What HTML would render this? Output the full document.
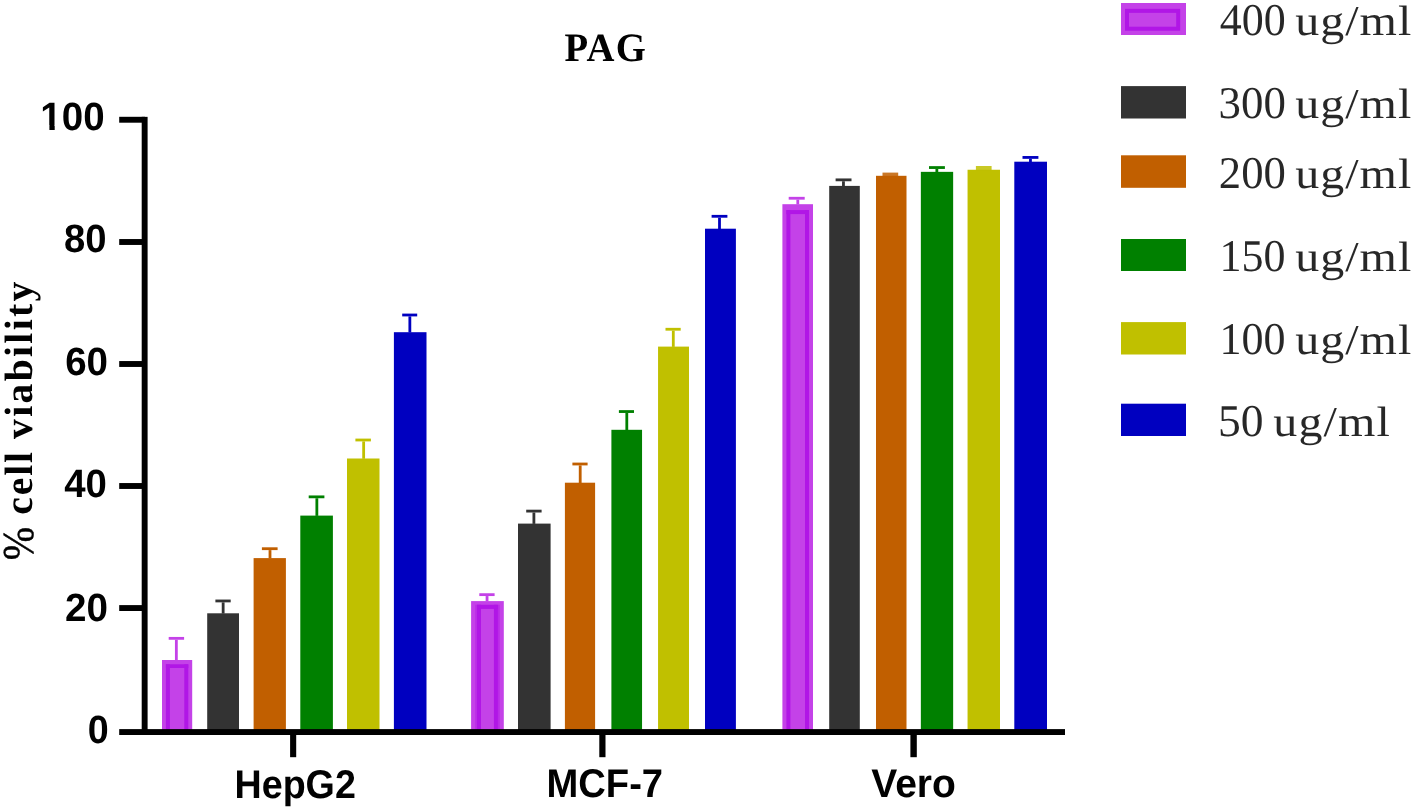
<!DOCTYPE html>
<html><head><meta charset="utf-8"><title>PAG</title>
<style>html,body{margin:0;padding:0;background:#fff;}body{width:1416px;height:810px;overflow:hidden;}svg{display:block;}text{font-family:"Liberation Sans",sans-serif;text-rendering:geometricPrecision;}.ser{font-family:"Liberation Serif",serif;}</style></head><body>
<svg width="1416" height="810" viewBox="0 0 1416 810">
<rect x="0.00" y="0.00" width="1416.00" height="810.00" fill="#fff"/>
<rect x="162.00" y="660.00" width="30.20" height="70.50" fill="#C442E8"/>
<rect x="165.90" y="664.30" width="4.00" height="66.20" fill="#B116E6"/>
<rect x="184.30" y="664.30" width="4.00" height="66.20" fill="#B116E6"/>
<rect x="165.90" y="664.30" width="22.40" height="3.70" fill="#B116E6"/>
<rect x="168.70" y="636.95" width="15.40" height="2.80" fill="#C442E8"/>
<rect x="174.95" y="639.75" width="2.80" height="20.55" fill="#C442E8"/>
<rect x="207.20" y="613.30" width="31.80" height="117.20" fill="#333333"/>
<rect x="215.40" y="599.55" width="15.30" height="2.80" fill="#333333"/>
<rect x="221.75" y="602.35" width="2.80" height="11.25" fill="#333333"/>
<rect x="253.60" y="558.10" width="32.30" height="172.40" fill="#C15F00"/>
<rect x="261.90" y="547.30" width="15.70" height="2.80" fill="#C15F00"/>
<rect x="268.60" y="550.10" width="2.80" height="8.30" fill="#C15F00"/>
<rect x="300.30" y="515.60" width="32.60" height="214.90" fill="#008000"/>
<rect x="308.70" y="495.45" width="15.70" height="2.80" fill="#008000"/>
<rect x="315.45" y="498.25" width="2.80" height="17.65" fill="#008000"/>
<rect x="347.00" y="458.50" width="32.50" height="272.00" fill="#C0C000"/>
<rect x="355.40" y="438.60" width="15.50" height="2.80" fill="#C0C000"/>
<rect x="362.25" y="441.40" width="2.80" height="17.40" fill="#C0C000"/>
<rect x="393.90" y="332.20" width="32.60" height="398.30" fill="#0000C0"/>
<rect x="402.20" y="313.60" width="15.00" height="2.80" fill="#0000C0"/>
<rect x="408.45" y="316.40" width="2.80" height="16.10" fill="#0000C0"/>
<rect x="471.10" y="601.10" width="32.70" height="129.40" fill="#C442E8"/>
<rect x="475.20" y="604.80" width="1.80" height="125.70" fill="#BB2CE7"/>
<rect x="497.90" y="604.80" width="1.80" height="125.70" fill="#BB2CE7"/>
<rect x="477.00" y="604.80" width="4.00" height="125.70" fill="#B116E6"/>
<rect x="493.90" y="604.80" width="4.00" height="125.70" fill="#B116E6"/>
<rect x="477.00" y="604.80" width="20.90" height="4.10" fill="#B116E6"/>
<rect x="479.30" y="593.25" width="15.30" height="2.80" fill="#C442E8"/>
<rect x="485.65" y="596.05" width="2.80" height="5.35" fill="#C442E8"/>
<rect x="518.00" y="523.60" width="32.60" height="206.90" fill="#333333"/>
<rect x="526.20" y="509.70" width="15.40" height="2.80" fill="#333333"/>
<rect x="532.50" y="512.50" width="2.80" height="11.40" fill="#333333"/>
<rect x="564.90" y="482.70" width="30.20" height="247.80" fill="#C15F00"/>
<rect x="572.40" y="462.60" width="15.20" height="2.80" fill="#C15F00"/>
<rect x="578.80" y="465.40" width="2.80" height="17.60" fill="#C15F00"/>
<rect x="611.40" y="429.80" width="30.65" height="300.70" fill="#008000"/>
<rect x="618.90" y="410.15" width="15.10" height="2.80" fill="#008000"/>
<rect x="625.40" y="412.95" width="2.80" height="17.15" fill="#008000"/>
<rect x="658.05" y="346.60" width="30.95" height="383.90" fill="#C0C000"/>
<rect x="665.50" y="327.85" width="15.20" height="2.80" fill="#C0C000"/>
<rect x="671.90" y="330.65" width="2.80" height="16.25" fill="#C0C000"/>
<rect x="705.00" y="228.70" width="30.90" height="501.80" fill="#0000C0"/>
<rect x="711.60" y="214.90" width="15.80" height="2.80" fill="#0000C0"/>
<rect x="718.10" y="217.70" width="2.80" height="11.30" fill="#0000C0"/>
<rect x="782.40" y="204.20" width="30.60" height="526.30" fill="#C442E8"/>
<rect x="786.40" y="210.10" width="4.00" height="520.40" fill="#B116E6"/>
<rect x="805.00" y="210.10" width="4.00" height="520.40" fill="#B116E6"/>
<rect x="786.40" y="210.10" width="22.60" height="4.00" fill="#B116E6"/>
<rect x="788.70" y="196.85" width="16.00" height="2.80" fill="#C442E8"/>
<rect x="796.40" y="199.65" width="2.80" height="4.85" fill="#C442E8"/>
<rect x="829.20" y="185.90" width="30.60" height="544.60" fill="#333333"/>
<rect x="835.60" y="178.45" width="15.90" height="2.80" fill="#333333"/>
<rect x="842.05" y="181.25" width="2.80" height="4.95" fill="#333333"/>
<rect x="876.00" y="175.80" width="30.50" height="554.70" fill="#C15F00"/>
<rect x="882.50" y="172.60" width="15.70" height="3.50" fill="#C15F00" fill-opacity="0.85"/>
<rect x="920.85" y="171.85" width="32.30" height="558.65" fill="#008000"/>
<rect x="929.00" y="166.15" width="15.90" height="2.80" fill="#008000"/>
<rect x="935.45" y="168.95" width="2.80" height="3.20" fill="#008000"/>
<rect x="967.55" y="169.75" width="32.45" height="560.75" fill="#C0C000"/>
<rect x="975.90" y="166.00" width="15.70" height="4.05" fill="#C0C000" fill-opacity="0.85"/>
<rect x="1014.30" y="161.70" width="32.70" height="568.80" fill="#0000C0"/>
<rect x="1022.50" y="156.03" width="15.90" height="2.80" fill="#0000C0"/>
<rect x="1029.05" y="158.83" width="2.80" height="3.17" fill="#0000C0"/>
<rect x="141.70" y="116.85" width="5.90" height="618.15" fill="#000"/>
<rect x="119.20" y="729.10" width="945.80" height="5.90" fill="#000"/>
<rect x="119.20" y="116.80" width="25.80" height="5.90" fill="#000"/>
<rect x="119.20" y="239.05" width="25.80" height="5.90" fill="#000"/>
<rect x="119.20" y="361.05" width="25.80" height="5.90" fill="#000"/>
<rect x="119.20" y="483.05" width="25.80" height="5.90" fill="#000"/>
<rect x="119.20" y="605.10" width="25.80" height="5.90" fill="#000"/>
<rect x="290.10" y="732.00" width="6.10" height="25.20" fill="#000"/>
<rect x="599.30" y="732.00" width="6.20" height="25.20" fill="#000"/>
<rect x="910.40" y="732.00" width="6.40" height="25.20" fill="#000"/>
<g style="opacity:0.999">
<text transform="translate(40.35,129.70) scale(0.9749,1.0000)" font-size="39.5" font-weight="bold">100</text>
<text transform="translate(64.05,252.20) scale(0.9690,1.0000)" font-size="39.5" font-weight="bold">80</text>
<text transform="translate(65.15,374.75) scale(0.9752,1.0000)" font-size="39.5" font-weight="bold">60</text>
<text transform="translate(64.20,497.35) scale(0.9717,1.0000)" font-size="39.5" font-weight="bold">40</text>
<text transform="translate(65.10,620.85) scale(0.9775,1.0000)" font-size="39.5" font-weight="bold">20</text>
<text transform="translate(87.65,743.35) scale(0.9543,1.0000)" font-size="39.5" font-weight="bold">0</text>
<text transform="translate(234.50,797.70) scale(0.9412,1.0000)" font-size="40" font-weight="bold">HepG2</text>
<text transform="translate(546.45,797.15) scale(0.9543,1.0000)" font-size="40" font-weight="bold">MCF-7</text>
<text transform="translate(871.30,797.15) scale(0.9743,1.0000)" font-size="40" font-weight="bold">Vero</text>
<text class="ser" transform="translate(564.60,60.70) scale(0.9600,1.0000)" font-size="40.3" font-weight="bold" letter-spacing="1.286">PAG</text>
<text class="ser" transform="translate(33.00,560.35) rotate(-90) scale(0.9102,1.0000)" font-size="44" font-weight="normal" stroke="#000" stroke-width="0.5" stroke-linejoin="round">%</text>
<text class="ser" transform="translate(32.40,514.65) rotate(-90) scale(1.0000,1.0000)" font-size="39.6" font-weight="bold" letter-spacing="1.833">cell</text>
<text class="ser" transform="translate(32.40,438.95) rotate(-90) scale(1.0000,1.0000)" font-size="39.6" font-weight="bold" letter-spacing="2.338">viability</text>
<text class="ser" transform="translate(1219.80,34.75) scale(0.9688,1.0000)" font-size="45.406250367404716" font-weight="normal" fill-opacity="0.85">400</text>
<text class="ser" transform="translate(1295.35,34.80) scale(1.1300,1.0000)" font-size="42.5" font-weight="normal" letter-spacing="0.855" fill-opacity="0.85">ug/ml</text>
<text class="ser" transform="translate(1218.55,117.55) scale(0.9883,1.0000)" font-size="45.406250367404766" font-weight="normal" fill-opacity="0.85">300</text>
<text class="ser" transform="translate(1295.35,117.50) scale(1.1300,1.0000)" font-size="42.5" font-weight="normal" letter-spacing="0.855" fill-opacity="0.85">ug/ml</text>
<text class="ser" transform="translate(1218.80,188.05) scale(0.9843,1.0000)" font-size="45.406250367404645" font-weight="normal" fill-opacity="0.85">200</text>
<text class="ser" transform="translate(1295.35,188.00) scale(1.1300,1.0000)" font-size="42.5" font-weight="normal" letter-spacing="0.855" fill-opacity="0.85">ug/ml</text>
<text class="ser" transform="translate(1219.60,271.05) scale(0.9697,1.0000)" font-size="45.406250367404645" font-weight="normal" fill-opacity="0.85">150</text>
<text class="ser" transform="translate(1295.35,271.00) scale(1.1300,1.0000)" font-size="42.5" font-weight="normal" letter-spacing="0.855" fill-opacity="0.85">ug/ml</text>
<text class="ser" transform="translate(1219.60,354.25) scale(0.9697,1.0000)" font-size="45.406250367404645" font-weight="normal" fill-opacity="0.85">100</text>
<text class="ser" transform="translate(1295.35,354.30) scale(1.1300,1.0000)" font-size="42.5" font-weight="normal" letter-spacing="0.855" fill-opacity="0.85">ug/ml</text>
<text class="ser" transform="translate(1218.05,435.55) scale(1.0026,1.0000)" font-size="45.406250367404645" font-weight="normal" fill-opacity="0.85">50</text>
<text class="ser" transform="translate(1273.35,435.50) scale(1.1300,1.0000)" font-size="42.5" font-weight="normal" letter-spacing="0.966" fill-opacity="0.85">ug/ml</text>
</g>
<rect x="41.35" y="125.40" width="8.05" height="5.30" fill="#fff"/>
<rect x="54.70" y="125.40" width="6.55" height="5.30" fill="#fff"/>
<rect x="1121.00" y="3.00" width="65.00" height="32.00" fill="#C442E8"/>
<rect x="1127" y="10.85" width="51.2" height="17.85" fill="none" stroke="#B116E6" stroke-width="4"/>
<rect x="1121.00" y="86.10" width="65.00" height="32.40" fill="#333333"/>
<rect x="1121.00" y="155.30" width="65.00" height="32.50" fill="#C15F00"/>
<rect x="1121.00" y="239.00" width="65.00" height="32.00" fill="#008000"/>
<rect x="1121.00" y="322.10" width="65.00" height="32.40" fill="#C0C000"/>
<rect x="1121.00" y="403.70" width="65.00" height="32.30" fill="#0000C0"/>
</svg></body></html>
